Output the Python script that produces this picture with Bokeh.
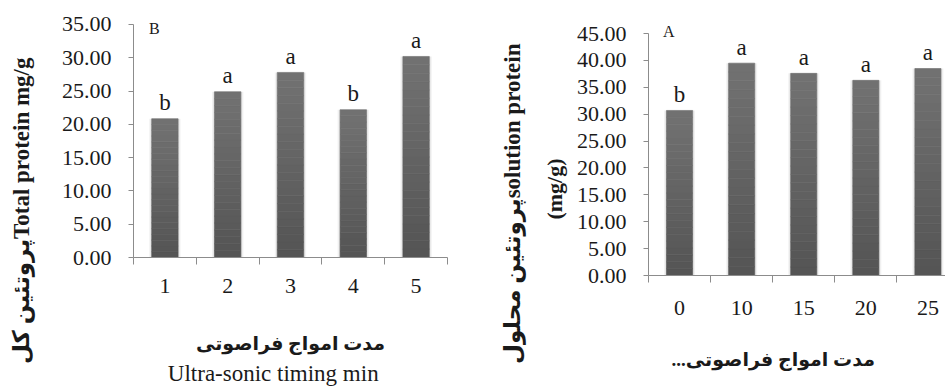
from bokeh.plotting import figure
from bokeh.models import Range1d, FixedTicker, Label, NumeralTickFormatter, ColumnDataSource, LinearAxis, Title
from bokeh.layouts import row
from bokeh.embed import file_html
from bokeh.resources import INLINE
from bokeh.core.properties import value

# ---------------- data ----------------
left_categories = ["1", "2", "3", "4", "5"]
left_values = [20.85, 24.9, 27.8, 22.2, 30.2]
left_letters = ["b", "a", "a", "b", "a"]
left_yticks = [0, 5, 10, 15, 20, 25, 30, 35]

right_categories = ["0", "10", "15", "20", "25"]
right_values = [30.7, 39.5, 37.6, 36.3, 38.5]
right_letters = ["b", "a", "a", "a", "a"]
right_yticks = [0, 5, 10, 15, 20, 25, 30, 35, 40, 45]

SERIF = "'Liberation Serif', 'Times New Roman', 'DejaVu Sans', serif"
AXIS_GRAY = "#8c8c8c"
TEXT = "#1a1a1a"
NB = "\u00a0"
RLM = "\u200f"


def lerp_color(c0, c1, t):
    r = [round(a + (b - a) * t) for a, b in zip(c0, c1)]
    return "#%02x%02x%02x" % tuple(r)


def style_panel(p, categories, yticks, ymax, xstandoff):
    p.xgrid.visible = False
    p.ygrid.visible = False
    p.outline_line_color = None
    p.background_fill_color = "white"
    p.border_fill_color = "white"
    try:
        p.frame_align = False
    except Exception:
        pass

    n = len(categories)
    xa = p.xaxis[0]
    xa.ticker = FixedTicker(ticks=[i + 0.5 for i in range(n)],
                            minor_ticks=list(range(n + 1)))
    xa.major_label_overrides = {i + 0.5: c for i, c in enumerate(categories)}
    xa.major_tick_line_color = None
    xa.major_tick_in = 0
    xa.major_tick_out = 0
    xa.minor_tick_line_color = AXIS_GRAY
    xa.minor_tick_in = 0
    xa.minor_tick_out = 7
    xa.axis_line_color = AXIS_GRAY
    xa.major_label_text_font = SERIF
    xa.major_label_text_font_size = "22px"
    xa.major_label_text_color = TEXT
    xa.major_label_standoff = xstandoff

    ya = p.yaxis[0]
    ya.ticker = FixedTicker(ticks=yticks)
    ya.formatter = NumeralTickFormatter(format="0.00")
    ya.bounds = (0, ymax)
    ya.axis_line_color = AXIS_GRAY
    ya.major_tick_line_color = AXIS_GRAY
    ya.major_tick_in = 0
    ya.major_tick_out = 5
    ya.minor_tick_line_color = None
    ya.major_label_text_font = SERIF
    ya.major_label_text_font_size = "22px"
    ya.major_label_text_color = TEXT
    ya.major_label_standoff = 17


def set_axis_label(ax, text, size, standoff, bold=True):
    ax.axis_label = text
    ax.axis_label_text_font = SERIF
    ax.axis_label_text_font_size = size
    ax.axis_label_text_font_style = "bold" if bold else "normal"
    ax.axis_label_text_color = TEXT
    ax.axis_label_standoff = standoff


def label_only_axis(p, side, text, size, standoff, bold):
    ax = LinearAxis(ticker=FixedTicker(ticks=[]), axis_line_color=None,
                    major_tick_line_color=None, minor_tick_line_color=None,
                    major_tick_in=0, major_tick_out=0, minor_tick_in=0, minor_tick_out=0,
                    major_label_standoff=0, major_label_text_font_size="0px")
    set_axis_label(ax, text, size, standoff, bold)
    p.add_layout(ax, side)
    return ax


def side_title(p, text, size, offset, standoff, valign):
    p.add_layout(Title(text=text, align="right", offset=offset, standoff=standoff,
                       vertical_align=valign, text_font=SERIF, text_font_size=size,
                       text_font_style="bold", text_color=TEXT), "left")


def draw_bars(p, categories, values, letters):
    xs = [i + 0.5 for i in range(len(categories))]
    # soft shadow
    p.vbar(x=xs, top=values, bottom=0, width=0.50, fill_color="black",
           fill_alpha=0.05, line_color=None)
    p.vbar(x=xs, top=values, bottom=0, width=0.46, fill_color="black",
           fill_alpha=0.07, line_color=None)
    # gradient fill (light on top, dark at bottom)
    nseg = 24
    top_c = (114, 114, 114)
    bot_c = (84, 84, 84)
    for k in range(nseg):
        f0 = k / nseg
        f1 = (k + 1) / nseg
        col = lerp_color(bot_c, top_c, (k + 0.5) / nseg)
        p.vbar(x=xs, bottom=[v * f0 for v in values], top=[v * f1 for v in values],
               width=0.42, fill_color=col, line_color=col, line_width=0.6)
    src = ColumnDataSource(dict(x=xs, y=values, t=letters))
    p.text(x="x", y="y", text="t", source=src, text_align="center",
           text_baseline="alphabetic", y_offset=-16,
           text_font=value(SERIF), text_font_size="23px", text_color=TEXT)


def panel_tag(p, text, x, y):
    p.add_layout(Label(x=x, y=y, text=text, text_font=SERIF, text_font_size="16px",
                       text_color=TEXT, text_align="center", text_baseline="middle"))


# ---------------- left panel (B) ----------------
left = figure(width=465, height=388, x_range=Range1d(0, 5), y_range=Range1d(0, 36.5),
              output_backend="svg", toolbar_location=None,
              min_border_left=133, min_border_right=18, min_border_top=14,
              min_border_bottom=131)
style_panel(left, left_categories, left_yticks, 35, 14)
draw_bars(left, left_categories, left_values, left_letters)
set_axis_label(left.yaxis[0], NB, "22px", -3)
side_title(left, "پروتئین کلTotal protein mg/g", "23px", 43, 0, "bottom")
set_axis_label(left.xaxis[0], "مدت امواج فراصوتی", "19px", 37)
label_only_axis(left, "below", "Ultra-sonic timing min" + NB * 6, "23px", 4, False)
panel_tag(left, "B", 0.33, 34.47)

# ---------------- right panel (A) ----------------
right = figure(width=480, height=388, x_range=Range1d(0, 4.783), y_range=Range1d(0, 46.5),
               output_backend="svg", toolbar_location=None,
               min_border_left=183, min_border_right=0, min_border_top=25,
               min_border_bottom=113)
style_panel(right, right_categories, right_yticks, 45, 18)
draw_bars(right, right_categories, right_values, right_letters)
set_axis_label(right.yaxis[0], "(mg/g)" + NB * 14, "22px", 7)
side_title(right, "پروتئین محلولsolution protein", "23px", 18, 28, "bottom")
set_axis_label(right.xaxis[0], "مدت امواج فراصوتی..." + RLM + NB * 10, "19px", 31)
panel_tag(right, "A", 0.327, 45.37)

layout = row(left, right)
open("out.html", "w").write(file_html(layout, INLINE))
